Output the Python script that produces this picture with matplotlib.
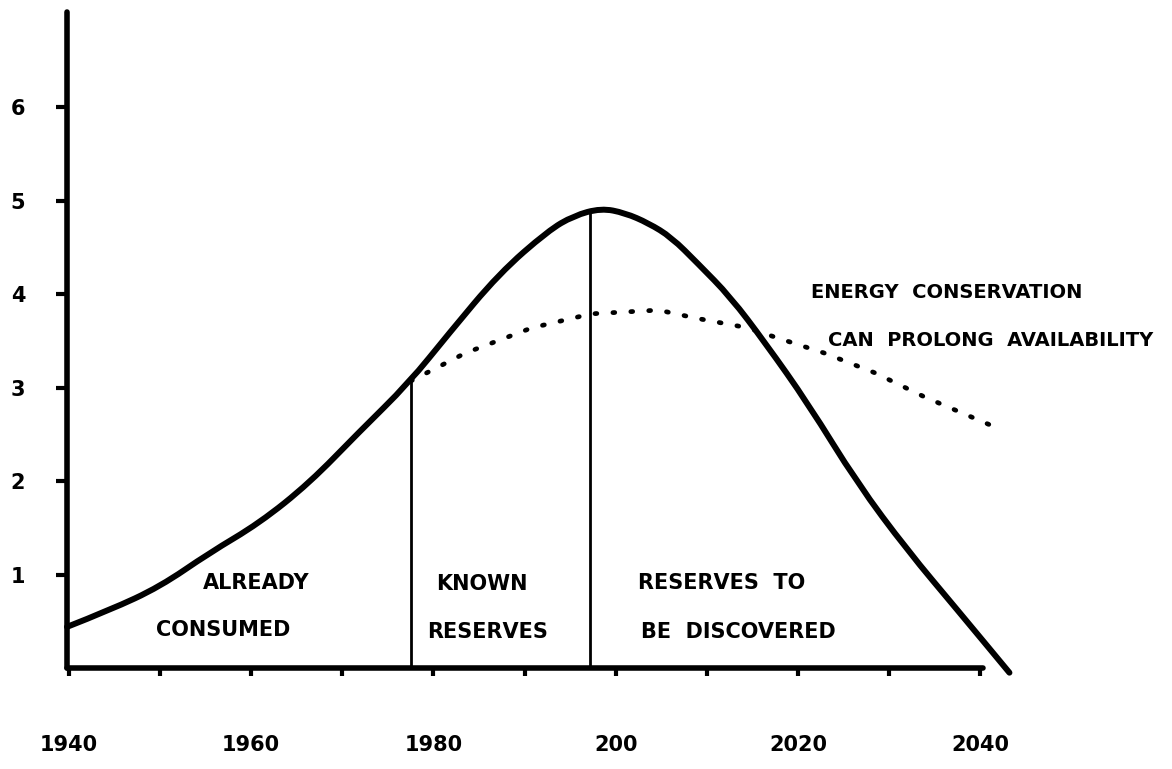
#!/usr/bin/env python3
"""
Hand-drawn style chart: oil production over time, with the
energy conservation scenario shown as a dotted line.
"""

import numpy as np
import matplotlib
matplotlib.use("Agg")
import matplotlib.pyplot as plt
from matplotlib.path import Path
from matplotlib.patches import PathPatch

# production curve
years = [1939.8, 1944.5, 1950.0, 1955.4, 1960.9, 1966.4, 1971.8, 1977.3, 1981.7,
         1987.2, 1992.6, 1995.4, 1998.4, 2001.0, 2003.6, 2006.1, 2009.0, 2012.6,
         2016.4, 2021.1, 2026.5, 2032.0, 2037.5, 2043.2]
production = [0.44, 0.62, 0.87, 1.23, 1.55, 1.98, 2.52, 3.05, 3.58,
              4.22, 4.68, 4.84, 4.92, 4.87, 4.76, 4.61, 4.33, 3.97,
              3.48, 2.83, 1.98, 1.26, 0.62, -0.05]

# conservation scenario
cons_years = [1977.5, 1983.5, 1990.8, 1997.3, 2004.7, 2009.0, 2014.5, 2017.5,
              2022.9, 2028.4, 2033.9, 2041.1]
cons_values = [3.07, 3.37, 3.64, 3.79, 3.83, 3.74, 3.64, 3.54,
               3.37, 3.16, 2.90, 2.60]

# boundaries between the three regions
divider_years = [1977.5, 1997.2]

x_ticks = list(range(1940, 2041, 10))
x_labels = ["1940", "1960", "1980", "200", "2020", "2040"]
x_label_years = [1940, 1960, 1980, 2000, 2020, 2040]
y_ticks = [1, 2, 3, 4, 5, 6]

region_labels = [
    ("ALREADY", 1954.7, 0.91),
    ("CONSUMED", 1949.6, 0.41),
    ("KNOWN", 1980.3, 0.90),
    ("RESERVES", 1979.3, 0.39),
    ("RESERVES  TO", 2002.5, 0.91),
    ("BE  DISCOVERED", 2002.8, 0.39),
]
note_lines = [
    ("ENERGY  CONSERVATION", 2021.4, 4.02),
    ("CAN  PROLONG  AVAILABILITY", 2023.3, 3.51),
]


def smooth_path(xs, ys):
    """Quadratic bezier through the midpoints, using the points as controls."""
    pts = np.column_stack([xs, ys])
    verts = [pts[0]]
    codes = [Path.MOVETO]
    for i in range(1, len(pts) - 1):
        mid = (pts[i] + pts[i + 1]) / 2
        verts += [pts[i], mid]
        codes += [Path.CURVE3, Path.CURVE3]
    verts.append(pts[-1])
    codes.append(Path.LINETO)
    return Path(verts, codes)


fig = plt.figure(figsize=(11.72, 7.69), dpi=100)
ax = fig.add_axes([67 / 1172, 101 / 769, 916 / 1172, 656 / 769])

# main curve
curve = PathPatch(smooth_path(years, production), facecolor="none",
                  edgecolor="black", lw=4.3, capstyle="round",
                  joinstyle="round", clip_on=False, zorder=3)
ax.add_patch(curve)

# conservation curve (dotted)
ax.plot(cons_years, cons_values, color="black", lw=3.4, linestyle=(0, (0.4, 3.4)),
        dash_capstyle="round", clip_on=False, zorder=3)

# region dividers up to the curve
tops = np.interp(divider_years, years, production)
ax.vlines(divider_years, 0, tops, color="black", lw=2)

for text, x, y in region_labels:
    ax.text(x, y, text, ha="left", va="center", fontsize=15, fontweight="bold")
for text, x, y in note_lines:
    ax.text(x, y, text, ha="left", va="center", fontsize=14, fontweight="bold")

ax.set_xlim(1939.8, 2040.3)
ax.set_ylim(0, 7.02)

ax.set_xticks(x_ticks)
ax.set_xticklabels([x_labels[x_label_years.index(t)] if t in x_label_years else ""
                    for t in x_ticks])
ax.set_yticks(y_ticks)
ax.set_yticklabels([str(v) for v in y_ticks])

ax.tick_params(axis="x", direction="out", length=6, width=3, pad=42,
               labelsize=15)
ax.tick_params(axis="y", direction="out", length=8, width=3, pad=22,
               labelsize=15)
for lab in ax.get_xticklabels() + ax.get_yticklabels():
    lab.set_fontweight("bold")

for side in ["top", "right"]:
    ax.spines[side].set_visible(False)
for side in ["left", "bottom"]:
    ax.spines[side].set_linewidth(4)
    ax.spines[side].set_capstyle("round")

plt.savefig("out.png", dpi=100)
